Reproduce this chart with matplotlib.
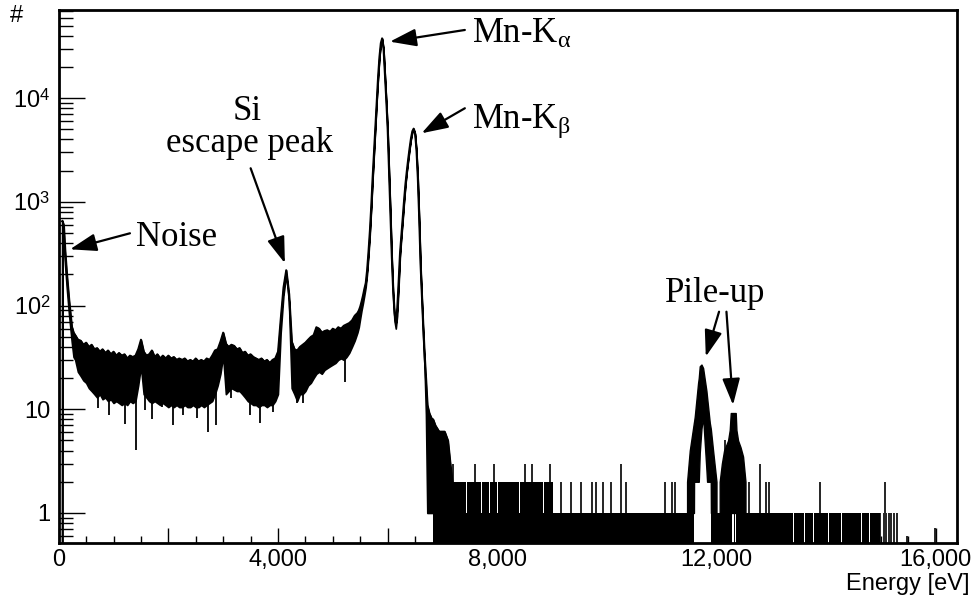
# -*- coding: utf-8 -*-
"""
plot.py - Mn 能谱（对数坐标，仿 ROOT 风格）
=========================================
X轴：能量 (eV)，Y轴：计数 (#)
噪声区域画成上下包络之间的黑色带，高能区画成 0/1 计数的“地板”。
"""

import numpy as np
import matplotlib
matplotlib.use("Agg")  # 无头模式
import matplotlib.pyplot as plt
from matplotlib.ticker import MultipleLocator, FuncFormatter, FixedLocator, LogLocator, NullFormatter

plt.rcParams["font.family"] = ["Liberation Sans", "DejaVu Sans"]
plt.rcParams["mathtext.fontset"] = "custom"
plt.rcParams["mathtext.rm"] = "Liberation Sans"
plt.rcParams["mathtext.it"] = "Liberation Serif"  # 只给 α / β 下标用

SERIF = ["Liberation Serif", "DejaVu Serif"]

# ─────────────────────────────────────────────────────────────────────────────
# 数据（从图上读出来的近似值）
# ─────────────────────────────────────────────────────────────────────────────

# 低能噪声峰
noise_e = [62, 66, 90, 115, 146, 188, 237, 270]
noise_hi = [650, 660, 600, 344, 205, 113, 63, 55]
noise_lo = [0.1, 480, 420, 250, 150, 82, 45, 32]

# 连续谱 300–5400 eV，每 50 eV 一个点（含 1.5 keV、3 keV 小峰和 Si 逃逸峰）
cont_e = list(range(300, 5401, 50))
cont_hi = [
    52, 47, 46, 42, 44, 40, 42, 38, 39, 36,
    38, 35, 37, 34, 36, 33, 35, 33, 34, 31,
    33, 32, 33, 38, 47, 36, 33, 34, 37, 32,
    34, 31, 33, 31, 33, 31, 32, 30, 31, 30,
    31, 29, 30, 29, 31, 29, 30, 29, 31, 30,
    33, 37, 38, 45, 55, 43, 40, 42, 41, 38,
    39, 35, 36, 33, 34, 32, 31, 30, 31, 29,
    30, 28, 30, 31, 36, 75, 150, 220, 130, 45,
    38, 37, 40, 42, 44, 47, 50, 52, 62, 60,
    55, 57, 58, 56, 60, 58, 62, 60, 64, 66,
    68, 72, 80,
]
cont_lo = [
    30, 23, 21, 19, 18, 16, 15, 14, 13, 14,
    12.5, 13, 12, 12.5, 11.5, 12, 11.5, 11, 11.5, 11,
    12, 11.5, 12, 17, 26, 14, 13, 12, 11.5, 12,
    11.5, 11, 11.5, 11, 10.5, 11, 10.5, 11, 10.5, 10.5,
    11, 10.5, 10.5, 11, 10.5, 10.5, 11, 10.5, 11, 11.5,
    12, 14, 17, 22, 33, 14, 15, 16, 15.5, 15,
    15, 14, 13, 12, 11.5, 11, 11, 10.5, 11, 11,
    10.5, 11, 11, 12, 14, 55, 125, 200, 110, 16,
    14, 12, 14, 14, 15, 17, 18, 20, 22, 23,
    22, 24, 25, 26, 27, 28, 30, 31, 30, 32,
    35, 40, 46,
]

# Mn-Kα / Mn-Kβ 区域 5450–6725 eV，每 25 eV 一个点
peak_e = list(range(5450, 6726, 25))
peak_hi = [
    85, 90, 98, 110, 125, 145, 165, 220, 330, 520,
    900, 1700, 3000, 5300, 9500, 16000, 25000, 34000, 37900, 30000,
    17000, 9500, 5000, 2000, 800, 300, 140, 85, 68, 95,
    170, 320, 480, 700, 1050, 1500, 2000, 2600, 3300, 4100,
    4800, 5100, 4600, 3200, 1700, 700, 250, 120, 60, 32,
    19, 11,
]
peak_lo = [
    55, 62, 75, 90, 105, 125, 150, 200, 300, 480,
    850, 1600, 2850, 5100, 9200, 15500, 24500, 33500, 37000, 29500,
    16500, 9200, 4800, 1900, 750, 280, 125, 72, 60, 80,
    150, 295, 450, 660, 1000, 1450, 1950, 2500, 3200, 4000,
    4700, 4950, 4500, 3100, 1650, 660, 230, 110, 50, 25,
    9, 1,
]

# Kβ 之后的台阶状尾部
tail_e = [6760, 6800, 6830, 6870, 6940, 7040, 7100, 7140, 7180]
tail_hi = [9.2, 8.2, 8, 7, 6.1, 6.1, 5, 3.1, 2]
tail_lo = [1, 1, 1, 1, 1, 1, 1, 1, 1]

# 噪声带中向下的尖刺 (能量, 计数)
dip_e = [711, 923, 1209, 1404, 1574, 1696, 1878, 2079, 2261, 2517, 2723, 2869,
         3137, 3489, 3671, 3914, 4340, 4462, 5222]
dip_v = [10.2, 8.9, 7.2, 4.05, 9.8, 8.0, 10.6, 7.0, 8.8, 8.2, 6.1, 7.0,
         12.8, 8.9, 7.3, 9.5, 11.4, 11.4, 18.5]

# 高能区：0/1 计数交替形成的“地板”，以及没有 0 计数的缺口
floor_start, floor_end = 6832, 14980
floor_gaps = [(11592, 11897), (12285, 12312), (12338, 12362),
              (13393, 13407), (13606, 13619), (13758, 13772), (14031, 14045),
              (14275, 14289), (14395, 14409), (14640, 14654), (14791, 14805)]
floor_line_e = [14991, 15052, 15094, 15143, 15191, 15234, 15295]
stub_e = [15484, 15994]
stub_v = [0.6, 0.71]

# 计数为 2 的密集区及其缺口
lvl2_start, lvl2_end = 7170, 9021
lvl2_gaps = [7319, 7441, 7715, 7854, 8000, 8109, 8218, 8413, 8547, 8656, 8747, 8851, 8912]

# 单个 bin 的尖峰 (能量, 计数)
spike_e = [7190, 7593, 7950, 8504, 8630, 8960, 9160, 9356, 9538, 9730, 9812, 9925,
           10082, 10268, 10359, 11058, 11190, 11250, 12152, 12596, 12790, 12913,
           12961, 13890, 15072]
spike_v = [3, 3, 3, 3, 3, 3, 2, 2, 2, 2, 2, 2,
           2, 3, 2, 2, 2, 2, 5, 2, 3, 2,
           2, 2, 2]

# 堆积峰 1（中间有空心）
pu1_e = [11465, 11514, 11590, 11592, 11605, 11666, 11678, 11696, 11727, 11757,
         11818, 11830, 11879, 11897, 11900, 11939, 12001]
pu1_hi = [2, 4, 7.5, 7.6, 8.5, 18, 20, 26, 27, 25, 15, 13, 7.4, 6.5, 6.3, 4, 2]
pu1_lo = [1, 1, 1, 2, 2, 2, 2, 3.8, 6.5, 8.5, 2.6, 2, 2, 2, 1, 1, 1]

# 堆积峰 2
pu2_e = [12060, 12100, 12140, 12213, 12243, 12262, 12310, 12352, 12365, 12395, 12440, 12486, 12530]
pu2_hi = [2, 3, 4, 5, 6.3, 9.2, 9.2, 9.2, 6.3, 5, 4.3, 3.5, 2]

# 坐标范围
X_MAX = 16384
Y_MIN, Y_MAX = 0.51, 70900
FLOOR = 0.1  # 0 计数画到坐标轴以下


def _spans(start, end, gaps):
    """根据缺口列表切出要填黑的区间。"""
    out, cur = [], start
    for a, b in gaps:
        out.append((cur, a))
        cur = b
    out.append((cur, end))
    return out


# ─────────────────────────────────────────────────────────────────────────────
# 绘图
# ─────────────────────────────────────────────────────────────────────────────

fig = plt.figure(figsize=(9.76, 6.01), dpi=100)
ax = fig.add_axes([58.7 / 976, 1 - 543.3 / 601, 898.0 / 976, 533.3 / 601])

env_e = np.array(noise_e + cont_e + peak_e + tail_e, dtype=float)
env_hi = np.array(noise_hi + cont_hi + peak_hi + tail_hi, dtype=float)
env_lo = np.array(noise_lo + cont_lo + peak_lo + tail_lo, dtype=float)

ax.fill_between(env_e, env_lo, env_hi, color="black", lw=1.2)
ax.plot(env_e, env_hi, color="black", lw=1.3)

# 向下的尖刺
dip_top = np.interp(dip_e, env_e, env_lo)
ax.vlines(dip_e, dip_v, dip_top, color="black", lw=1.3)

# 地板
for a, b in _spans(floor_start, floor_end, floor_gaps):
    ax.fill_between([a, b], FLOOR, 1, color="black", lw=0)
ax.vlines(floor_line_e, FLOOR, 1, color="black", lw=1.2)
ax.vlines(stub_e, FLOOR, stub_v, color="black", lw=1.2)

# 计数 2 的密集带
lvl2 = [(g - 6, g + 6) for g in lvl2_gaps]
for a, b in _spans(lvl2_start, lvl2_end, lvl2):
    ax.fill_between([a, b], 1, 2, color="black", lw=0)
ax.vlines(spike_e, 1, spike_v, color="black", lw=1.2)

# 堆积峰
ax.fill_between(pu1_e, pu1_lo, pu1_hi, color="black", lw=1.0)
ax.fill_between(pu2_e, 1, pu2_hi, color="black", lw=1.0)

# 坐标轴
ax.set_xlim(0, X_MAX)
ax.set_yscale("log")
ax.set_ylim(Y_MIN, Y_MAX)

ax.xaxis.set_major_locator(MultipleLocator(2000))
ax.xaxis.set_minor_locator(MultipleLocator(500))
ax.xaxis.set_major_formatter(FuncFormatter(
    lambda v, p: f"{v:,.0f}" if v % 4000 == 0 else ""))

ax.yaxis.set_major_locator(FixedLocator([1, 10, 100, 1000, 10000]))
ax.yaxis.set_major_formatter(FuncFormatter(
    lambda v, p: {1: "1", 10: "10"}.get(int(round(v)), f"$10^{{{int(round(np.log10(v)))}}}$")))
ax.yaxis.set_minor_locator(LogLocator(base=10, subs=np.arange(2, 10), numticks=20))
ax.yaxis.set_minor_formatter(NullFormatter())

ax.tick_params(axis="both", which="both", direction="in", top=False, right=False,
               color="black", width=1.0)
ax.tick_params(axis="x", which="major", length=11, labelsize=17, pad=4)
ax.tick_params(axis="x", which="minor", length=5)
ax.tick_params(axis="y", which="major", length=19, labelsize=17, pad=6)
ax.tick_params(axis="y", which="minor", length=10)

for s in ax.spines.values():
    s.set_linewidth(2.0)

fig.text(969 / 976, 1 - 584 / 601, "Energy [eV]", ha="right", va="center", fontsize=17)
fig.text(17 / 976, 1 - 16 / 601, "#", ha="center", va="center", fontsize=17)

# 标注
arrow = dict(arrowstyle="-|>,head_length=0.9,head_width=0.3", color="black",
             lw=1.6, shrinkA=0, shrinkB=0, mutation_scale=18)
txt = dict(family=SERIF, fontsize=25, color="black")

ax.text(1410, 376, "Noise", ha="left", va="baseline", **txt)
ax.annotate("", xy=(206, 349), xytext=(1300, 498), arrowprops=arrow)

ax.text(3443, 6160, "Si", ha="center", va="baseline", **txt)
ax.text(3478, 3030, "escape peak", ha="center", va="baseline", **txt)
ax.annotate("", xy=(4127, 256), xytext=(3502, 2110), arrowprops=arrow)

ax.text(7532, 33800, r"Mn-K$_{\alpha}$", ha="left", va="baseline", **txt)
ax.annotate("", xy=(6042, 35100), xytext=(7410, 45500), arrowprops=arrow)

ax.text(7532, 5130, r"Mn-K$_{\beta}$", ha="left", va="baseline", **txt)
ax.annotate("", xy=(6621, 4590), xytext=(7410, 8000), arrowprops=arrow)

ax.text(11970, 109, "Pile-up", ha="center", va="baseline", **txt)
ax.annotate("", xy=(11806, 32.2), xytext=(12048, 87.3), arrowprops=arrow)
ax.annotate("", xy=(12303, 11.0), xytext=(12183, 87.3), arrowprops=arrow)

fig.savefig("out.png", dpi=100)
plt.close(fig)
